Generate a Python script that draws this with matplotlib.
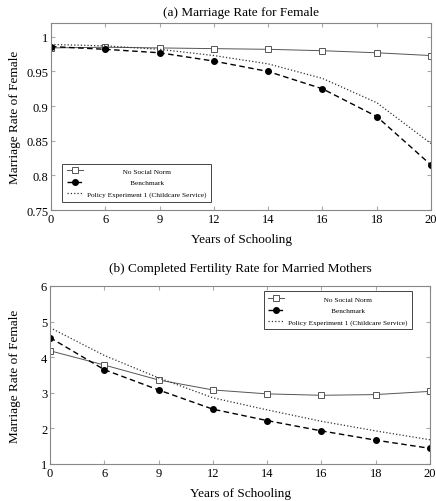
import numpy as np
import matplotlib
matplotlib.use('Agg')
from matplotlib import pyplot as plt

plt.rcParams['font.family'] = ['Liberation Serif', 'DejaVu Serif']

years = ['0', '6', '9', '12', '14', '16', '18', '20']
labels = ['No Social Norm', 'Benchmark', 'Policy Experiment 1 (Childcare Service)']

# (a) marriage rate
mar_nonorm = [0.984, 0.985, 0.984, 0.983, 0.982, 0.980, 0.977, 0.973]
mar_bench = [0.986, 0.982, 0.977, 0.965, 0.950, 0.925, 0.885, 0.815]
mar_policy = [0.989, 0.987, 0.982, 0.973, 0.961, 0.940, 0.905, 0.846]

# (b) completed fertility
fer_nonorm = [4.18, 3.78, 3.36, 3.08, 2.97, 2.93, 2.95, 3.04]
fer_bench = [4.55, 3.65, 3.08, 2.54, 2.22, 1.93, 1.67, 1.44]
fer_policy = [4.83, 4.05, 3.42, 2.86, 2.52, 2.20, 1.93, 1.68]

fig = plt.figure(figsize=(4.36, 5.02), dpi=100)
ax1 = fig.add_axes([51/436, 1-211/502, 380/436, 187/502])
ax2 = fig.add_axes([50/436, 1-465/502, 380/436, 178/502])

x = np.arange(len(years))
LFS = 5.2

# pad short legend labels with spaces so they look centred like the original
r = fig.canvas.get_renderer()
def tw(s):
    t = fig.text(0, 0, s, fontsize=LFS)
    w = t.get_window_extent(r).width
    t.remove()
    return w
wmax = max(tw(l) for l in labels)
wsp = tw('a a') - tw('aa')
plabels = [' ' * int(round((wmax - tw(l)) / 2 / wsp)) + l for l in labels]

def draw(ax, a, b, c, ylim, yticks, yticklabels, title, loc, anchor, tpad, ylx):
    ax.plot(x, a, '-', color='#555555', lw=0.7, marker='s', ms=4,
            mfc='white', mec='#555555', mew=0.7, label=plabels[0])
    ax.plot(x, b, '--', color='black', lw=1.0, dashes=(4, 2.5), marker='o', ms=4,
            mfc='black', mec='black', label=plabels[1])
    ax.plot(x, c, ':', color='#333333', lw=0.9, label=plabels[2])
    ax.set_xlim(0, len(years)-1)
    ax.set_ylim(*ylim)
    ax.set_xticks(x)
    ax.set_xticklabels(years, fontsize=9)
    ax.set_yticks(yticks)
    ax.set_yticklabels(yticklabels, fontsize=9)
    ax.tick_params(direction='in', length=3, color='#aaaaaa', top=True, right=True, pad=2)
    for s in ax.spines.values():
        s.set_color('#888888')
        s.set_linewidth(0.8)
    ax.set_xlabel('Years of Schooling', fontsize=9.5, labelpad=6)
    ax.set_ylabel('Marriage Rate of Female', fontsize=9.5)
    ax.yaxis.set_label_coords(ylx, 0.5)
    ax.set_title(title, fontsize=9.5, pad=tpad)
    leg = ax.legend(loc=loc, bbox_to_anchor=anchor, fontsize=LFS, fancybox=False,
                    edgecolor='#444444', handlelength=2.2, handletextpad=0.6,
                    borderpad=0.6, labelspacing=0.75, framealpha=1,
                    borderaxespad=0)
    leg.get_frame().set_linewidth(0.7)

draw(ax1, mar_nonorm, mar_bench, mar_policy, (0.75, 1.02),
     [0.75, 0.8, 0.85, 0.9, 0.95, 1.0], ['0.75', '0.8', '0.85', '0.9', '0.95', '1'],
     '(a) Marriage Rate for Female', 'lower left', (0.03, 0.045), 6, -0.08)
draw(ax2, fer_nonorm, fer_bench, fer_policy, (1, 6),
     [1, 2, 3, 4, 5, 6], ['1', '2', '3', '4', '5', '6'],
     '(b) Completed Fertility Rate for Married Mothers', 'upper right',
     (0.953, 0.97), 11, -0.077)

fig.savefig('out.png', dpi=100)
